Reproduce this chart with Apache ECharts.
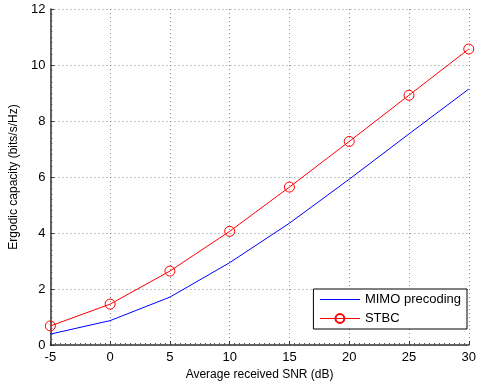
<!DOCTYPE html>
<html>
<head>
<meta charset="utf-8">
<script src="https://cdn.jsdelivr.net/npm/echarts@6/dist/echarts.min.js"></script>
<style>
html, body { margin: 0; padding: 0; background: #fff; }
#chart { width: 479px; height: 388px; }
</style>
</head>
<body>
<div id="chart"></div>
<script>
// SNR points (dB)
var snr = [-5, 0, 5, 10, 15, 20, 25, 30];
var mimoCap = [0.39, 0.87, 1.71, 2.94, 4.35, 5.92, 7.54, 9.14];
var stbcCap = [0.68, 1.46, 2.64, 4.06, 5.64, 7.27, 8.92, 10.57];

function pairs(xs, ys) {
    return xs.map(function (x, i) { return [x, ys[i]]; });
}

var chart = echarts.init(document.getElementById('chart'));

var gridLine = {
    show: true,
    lineStyle: { color: '#8a8a8a', width: 1, type: [1, 3] }
};

var option = {
    animation: false,
    backgroundColor: '#fff',
    textStyle: { fontFamily: 'Liberation Sans, Arial, sans-serif' },
    grid: { left: 45, right: 6, top: 9, bottom: 43 },
    legend: {
        orient: 'vertical',
        right: 12,
        bottom: 59,
        backgroundColor: '#fff',
        borderColor: '#000',
        borderWidth: 1,
        borderRadius: 0,
        padding: [4, 6, 4, 6],
        itemGap: 6,
        itemWidth: 40,
        itemHeight: 11,
        lineStyle: { width: 1 },
        textStyle: { color: '#000', fontSize: 13 },
        data: [
            { name: 'MIMO precoding', itemStyle: { opacity: 0 } },
            { name: 'STBC' }
        ]
    },
    xAxis: {
        type: 'value',
        min: -5,
        max: 30,
        interval: 5,
        name: 'Average received SNR (dB)',
        nameLocation: 'middle',
        nameGap: 24,
        nameTextStyle: { color: '#000', fontSize: 12 },
        axisLine: { onZero: false, lineStyle: { color: '#333', width: 1.5 } },
        axisTick: { inside: true, length: 4, lineStyle: { color: '#333' } },
        minorTick: { show: true, splitNumber: 12, length: 2, lineStyle: { color: '#555' } },
        axisLabel: { color: '#000', fontSize: 13, margin: 6 },
        splitLine: gridLine
    },
    yAxis: {
        type: 'value',
        min: 0,
        max: 12,
        interval: 2,
        name: 'Ergodic capacity (bits/s/Hz)',
        nameLocation: 'middle',
        nameGap: 29,
        nameTextStyle: { color: '#000', fontSize: 12 },
        axisLine: { show: true, onZero: false, lineStyle: { color: '#333', width: 1.5 } },
        axisTick: { show: true, inside: true, length: 4, lineStyle: { color: '#333' } },
        minorTick: { show: true, splitNumber: 10, length: 2, lineStyle: { color: '#555' } },
        axisLabel: { color: '#000', fontSize: 13, margin: 5 },
        splitLine: gridLine
    },
    series: [
        {
            name: 'MIMO precoding',
            type: 'line',
            data: pairs(snr, mimoCap),
            symbol: 'none',
            lineStyle: { color: '#0000ff', width: 1 },
            itemStyle: { color: '#0000ff' }
        },
        {
            name: 'STBC',
            type: 'line',
            data: pairs(snr, stbcCap),
            symbol: 'circle',
            symbolSize: 10,
            lineStyle: { color: '#ff0000', width: 1 },
            itemStyle: { color: 'rgba(0,0,0,0)', borderColor: '#ff0000', borderWidth: 1 }
        }
    ]
};

chart.setOption(option);
</script>
</body>
</html>
